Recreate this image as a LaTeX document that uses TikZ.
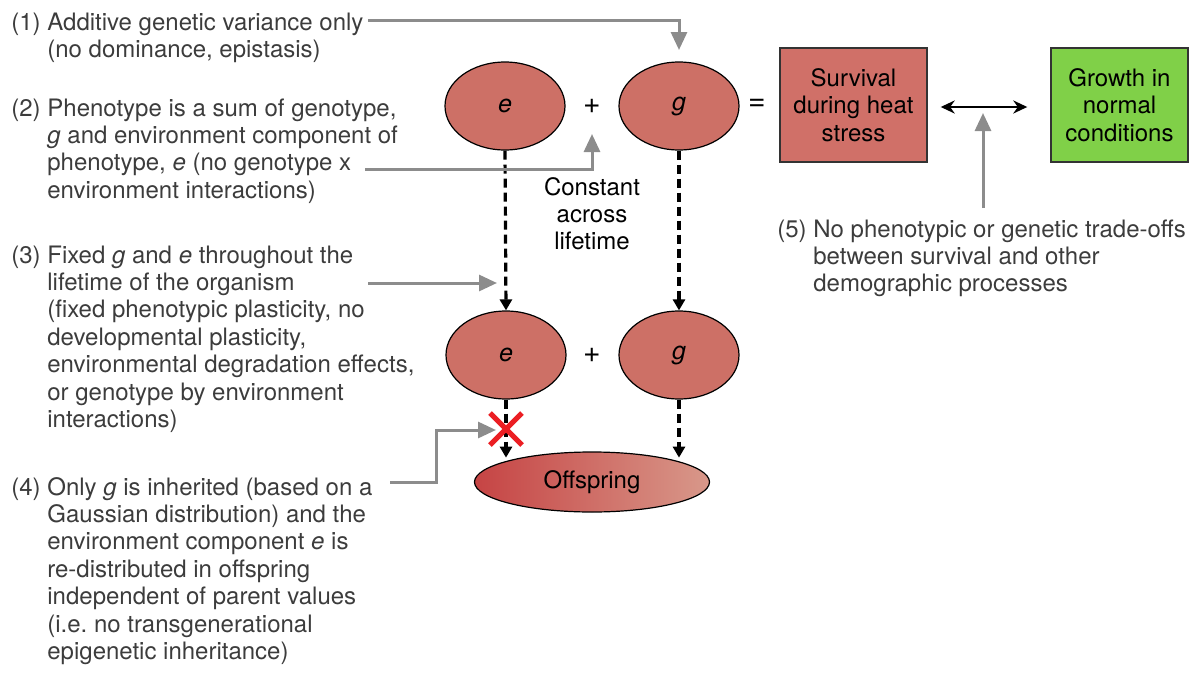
\documentclass[tikz,border=0pt]{standalone}
\usepackage{fontspec}
\setmainfont{TeX Gyre Heros}
\usetikzlibrary{arrows.meta,calc,shapes.geometric}
\definecolor{ell}{RGB}{205,112,102}
\definecolor{boxred}{RGB}{208,112,104}
\definecolor{boxgreen}{RGB}{128,208,72}
\definecolor{offL}{RGB}{198,68,68}
\definecolor{offR}{RGB}{216,152,138}
\definecolor{txtgrey}{RGB}{60,60,60}
\definecolor{arrgrey}{RGB}{140,140,140}
\definecolor{xred}{RGB}{235,30,35}
\newcommand{\ind}{\phantom{(0)\ }}
\frenchspacing
\begin{document}
\begin{tikzpicture}[x=0.5pt,y=-0.5pt,
  font=\fontsize{12}{13.7}\selectfont,
  note/.style={anchor=base west,inner sep=0pt,text=txtgrey},
  oval/.style={ellipse,draw=black,line width=0.6pt,fill=ell,minimum width=60pt,minimum height=44pt,inner sep=0pt,font=\fontsize{12.5}{14}\selectfont\itshape},
  rbox/.style={draw=black!80,line width=0.7pt,fill=boxred,minimum width=73.5pt,minimum height=57pt,align=center,inner sep=0pt},
  gbox/.style={draw=black!80,line width=0.7pt,fill=boxgreen,minimum width=68.5pt,minimum height=57pt,align=center,inner sep=0pt},
  sym/.style={inner sep=0pt,font=\fontsize{15}{16}\selectfont},
  dasharrow/.style={draw=black,line width=1.6pt,dash pattern=on 4.5pt off 2.5pt,-{Triangle[length=5.5pt,width=6pt]}},
  garrow/.style={draw=arrgrey,line width=1.5pt,-{Triangle[length=9pt,width=8pt]}},
  dblarrow/.style={draw=black,line width=1.3pt,{Stealth[length=7pt,width=6.5pt]}-{Stealth[length=7pt,width=6.5pt]}},
  xmark/.style={draw=xred,line width=2.5pt}
]
\useasboundingbox (0,0) rectangle (1196,675);

% left notes
\node[note] (t1) at (11,30) {\begin{tabular}[t]{@{}l@{}}(1) Additive genetic variance only\\\ind(no dominance, epistasis)\end{tabular}};
\node[note] (t2) at (11,116) {\begin{tabular}[t]{@{}l@{}}(2) Phenotype is a sum of genotype,\\\ind\textit{g} and environment component of\\\ind phenotype, \textit{e} (no genotype x\\\ind environment interactions)\end{tabular}};
\node[note] (t3) at (11,263) {\begin{tabular}[t]{@{}l@{}}(3) Fixed \textit{g} and \textit{e} throughout the\\\ind lifetime of the organism\\\ind(fixed phenotypic plasticity, no\\\ind developmental plasticity,\\\ind environmental degradation effects,\\\ind or genotype by environment\\\ind interactions)\end{tabular}};
\node[note] (t4) at (11,495) {\begin{tabular}[t]{@{}l@{}}(4) Only \textit{g} is inherited (based on a\\\ind Gaussian distribution) and the\\\ind environment component \textit{e} is\\\ind re-distributed in offspring\\\ind independent of parent values\\\ind(i.e. no transgenerational\\\ind epigenetic inheritance)\end{tabular}};
\node[note] (t5) at (777,237) {\begin{tabular}[t]{@{}l@{}}(5) No phenotypic or genetic trade-offs\\\ind between survival and other\\\ind demographic processes\end{tabular}};

% ellipses
\node[oval] (e1) at (505,106) {e};
\node[oval] (g1) at (679,106) {g};
\node[oval] (e2) at (506,355) {e};
\node[oval] (g2) at (679,355) {g};
\node[sym] (p1) at (592,106) {+};
\node[sym] (p2) at (592,355) {+};
\node[sym] (eq) at (757,105) {=};
\node[ellipse,draw=black,line width=0.6pt,left color=offL,right color=offR,minimum width=117.5pt,minimum height=30pt,inner sep=0pt] (off) at (592,482) {Offspring};

% boxes
\node[rbox] (surv) at (853.5,105) {Survival\\during heat\\stress};
\node[gbox] (grow) at (1119.5,105) {Growth in\\normal\\conditions};
\draw[dblarrow] ([yshift=-1pt]surv.east) -- ([yshift=-1pt]grow.west) [shorten <=6.5pt, shorten >=11.5pt];

% constant label
\node[anchor=base,inner sep=0pt] (const) at (592,195) {\begin{tabular}[t]{@{}c@{}}Constant\\across\\lifetime\end{tabular}};

% dashed arrows
\draw[dasharrow] (e1.south) -- (e2.north);
\draw[dasharrow] (g1.south |- g1.south) -- (g1.south |- g2.north);
\draw[dasharrow, shorten >=2pt] (e2.south) -- (e2.south |- off.167);
\draw[dasharrow, shorten >=2pt] (g2.south) -- (g2.south |- off.13);

% grey arrows
\coordinate (c1) at (368,20);
\coordinate (a1) at (679,50);
\draw[garrow] (c1) -| (a1);
\coordinate (c2) at (365,169);
\coordinate (a2) at (592,134);
\draw[garrow] (c2) -| (a2);
\coordinate (c3) at (368,283);
\coordinate (a3) at (497,283);
\draw[garrow] (c3) -- (a3);
\coordinate (c4) at (390,482);
\coordinate (k4) at (436,482);
\coordinate (a4) at (496,430);
\draw[garrow] (c4) -- (k4) |- (a4);
\coordinate (c5) at (983,208);
\coordinate (a5) at (983,113);
\draw[garrow] (c5) -- (a5);

% red cross
\coordinate (xc) at (506,429);
\draw[xmark] ($(xc)+(-16,-16)$) -- ($(xc)+(16,16)$) ($(xc)+(16,-16)$) -- ($(xc)+(-16,16)$);
\end{tikzpicture}
\end{document}
